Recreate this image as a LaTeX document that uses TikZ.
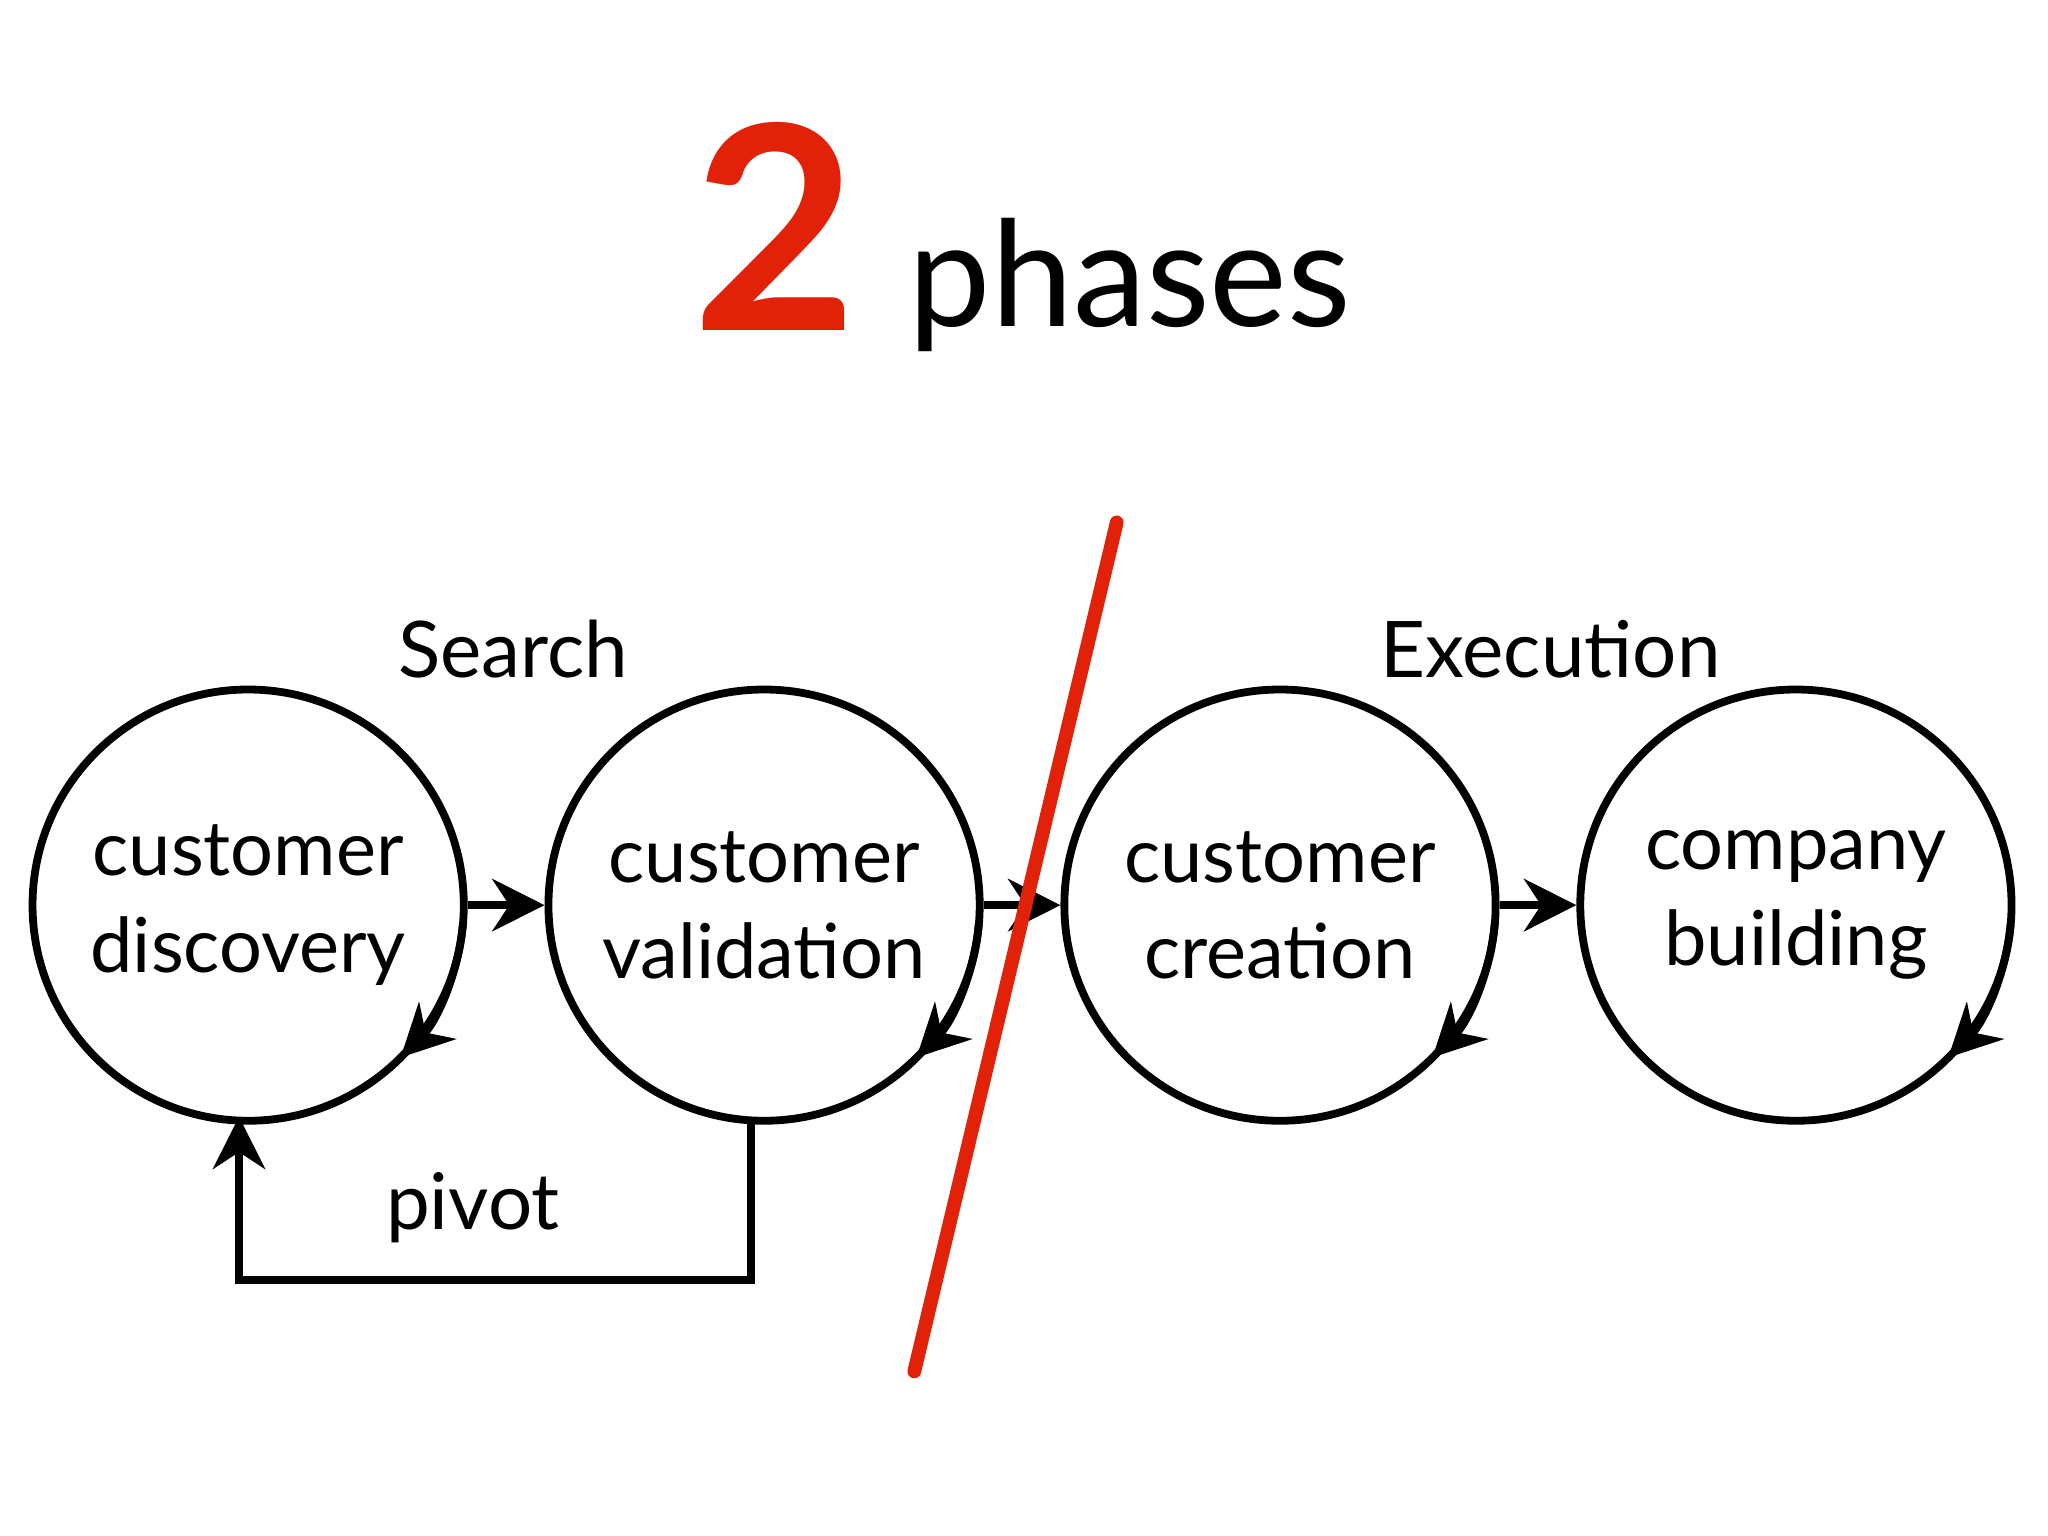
\documentclass[tikz,border=0pt]{standalone}
\usepackage{fontspec}
\setmainfont{Lato}
\usetikzlibrary{arrows.meta}
\definecolor{slashred}{RGB}{226,34,8}
\begin{document}
\begin{tikzpicture}[x=0.01cm,y=-0.01cm,
  circ/.style={circle,draw,line width=1.7pt,minimum size=3.3cm,inner sep=0pt,align=center,font=\fontsize{16.5}{21}\selectfont,text width=3cm},
  con/.style={line width=1.7pt,-{Stealth[length=0.4cm,width=0.4cm]}},
  lab/.style={font=\fontsize{17}{20}\selectfont}]
\useasboundingbox (0,0) rectangle (1568,1176);
\fill[white] (0,0) rectangle (1568,1176);
\node[anchor=base east,text=slashred,font=\fontsize{62}{64}\selectfont\bfseries,inner sep=0pt] (two) at (657,253) {2};
\node[anchor=base west,font=\fontsize{32}{34}\selectfont,inner sep=0pt] (ph) at (695,250) {phases};
\node[lab] (search) at (393,497) {Search};
\node[lab] (exec) at (1187,497) {Execution};
\node[circ] (c1) at (190,693) {customer\\discovery};
\node[circ] (c2) at (585,693) {customer\\validation};
\node[circ] (c3) at (980,693) {customer\\creation};
\node[circ] (c4) at (1375,693) {company\\building};
\draw[con] (c1) -- (c2);
\draw[con] (c2) -- (c3);
\draw[con] (c3) -- (c4);
\foreach \c in {c1,c2,c3,c4}{
  \draw[con] ([shift={(5:165)}]\c.center) arc[start angle=5,end angle=45,radius=165];
}
\coordinate (q1) at (575,855);
\coordinate (p1) at (575,980);
\coordinate (p2) at (183,980);
\coordinate (q2) at (183,855);
\draw[con] (q1) -- (p1) -- (p2) -- (q2);
\node[lab] (pivot) at (362,925) {pivot};
\coordinate (s1) at (855,400);
\coordinate (s2) at (700,1050);
\draw[slashred,line width=3pt,line cap=round] (s1) -- (s2);
\end{tikzpicture}
\end{document}
